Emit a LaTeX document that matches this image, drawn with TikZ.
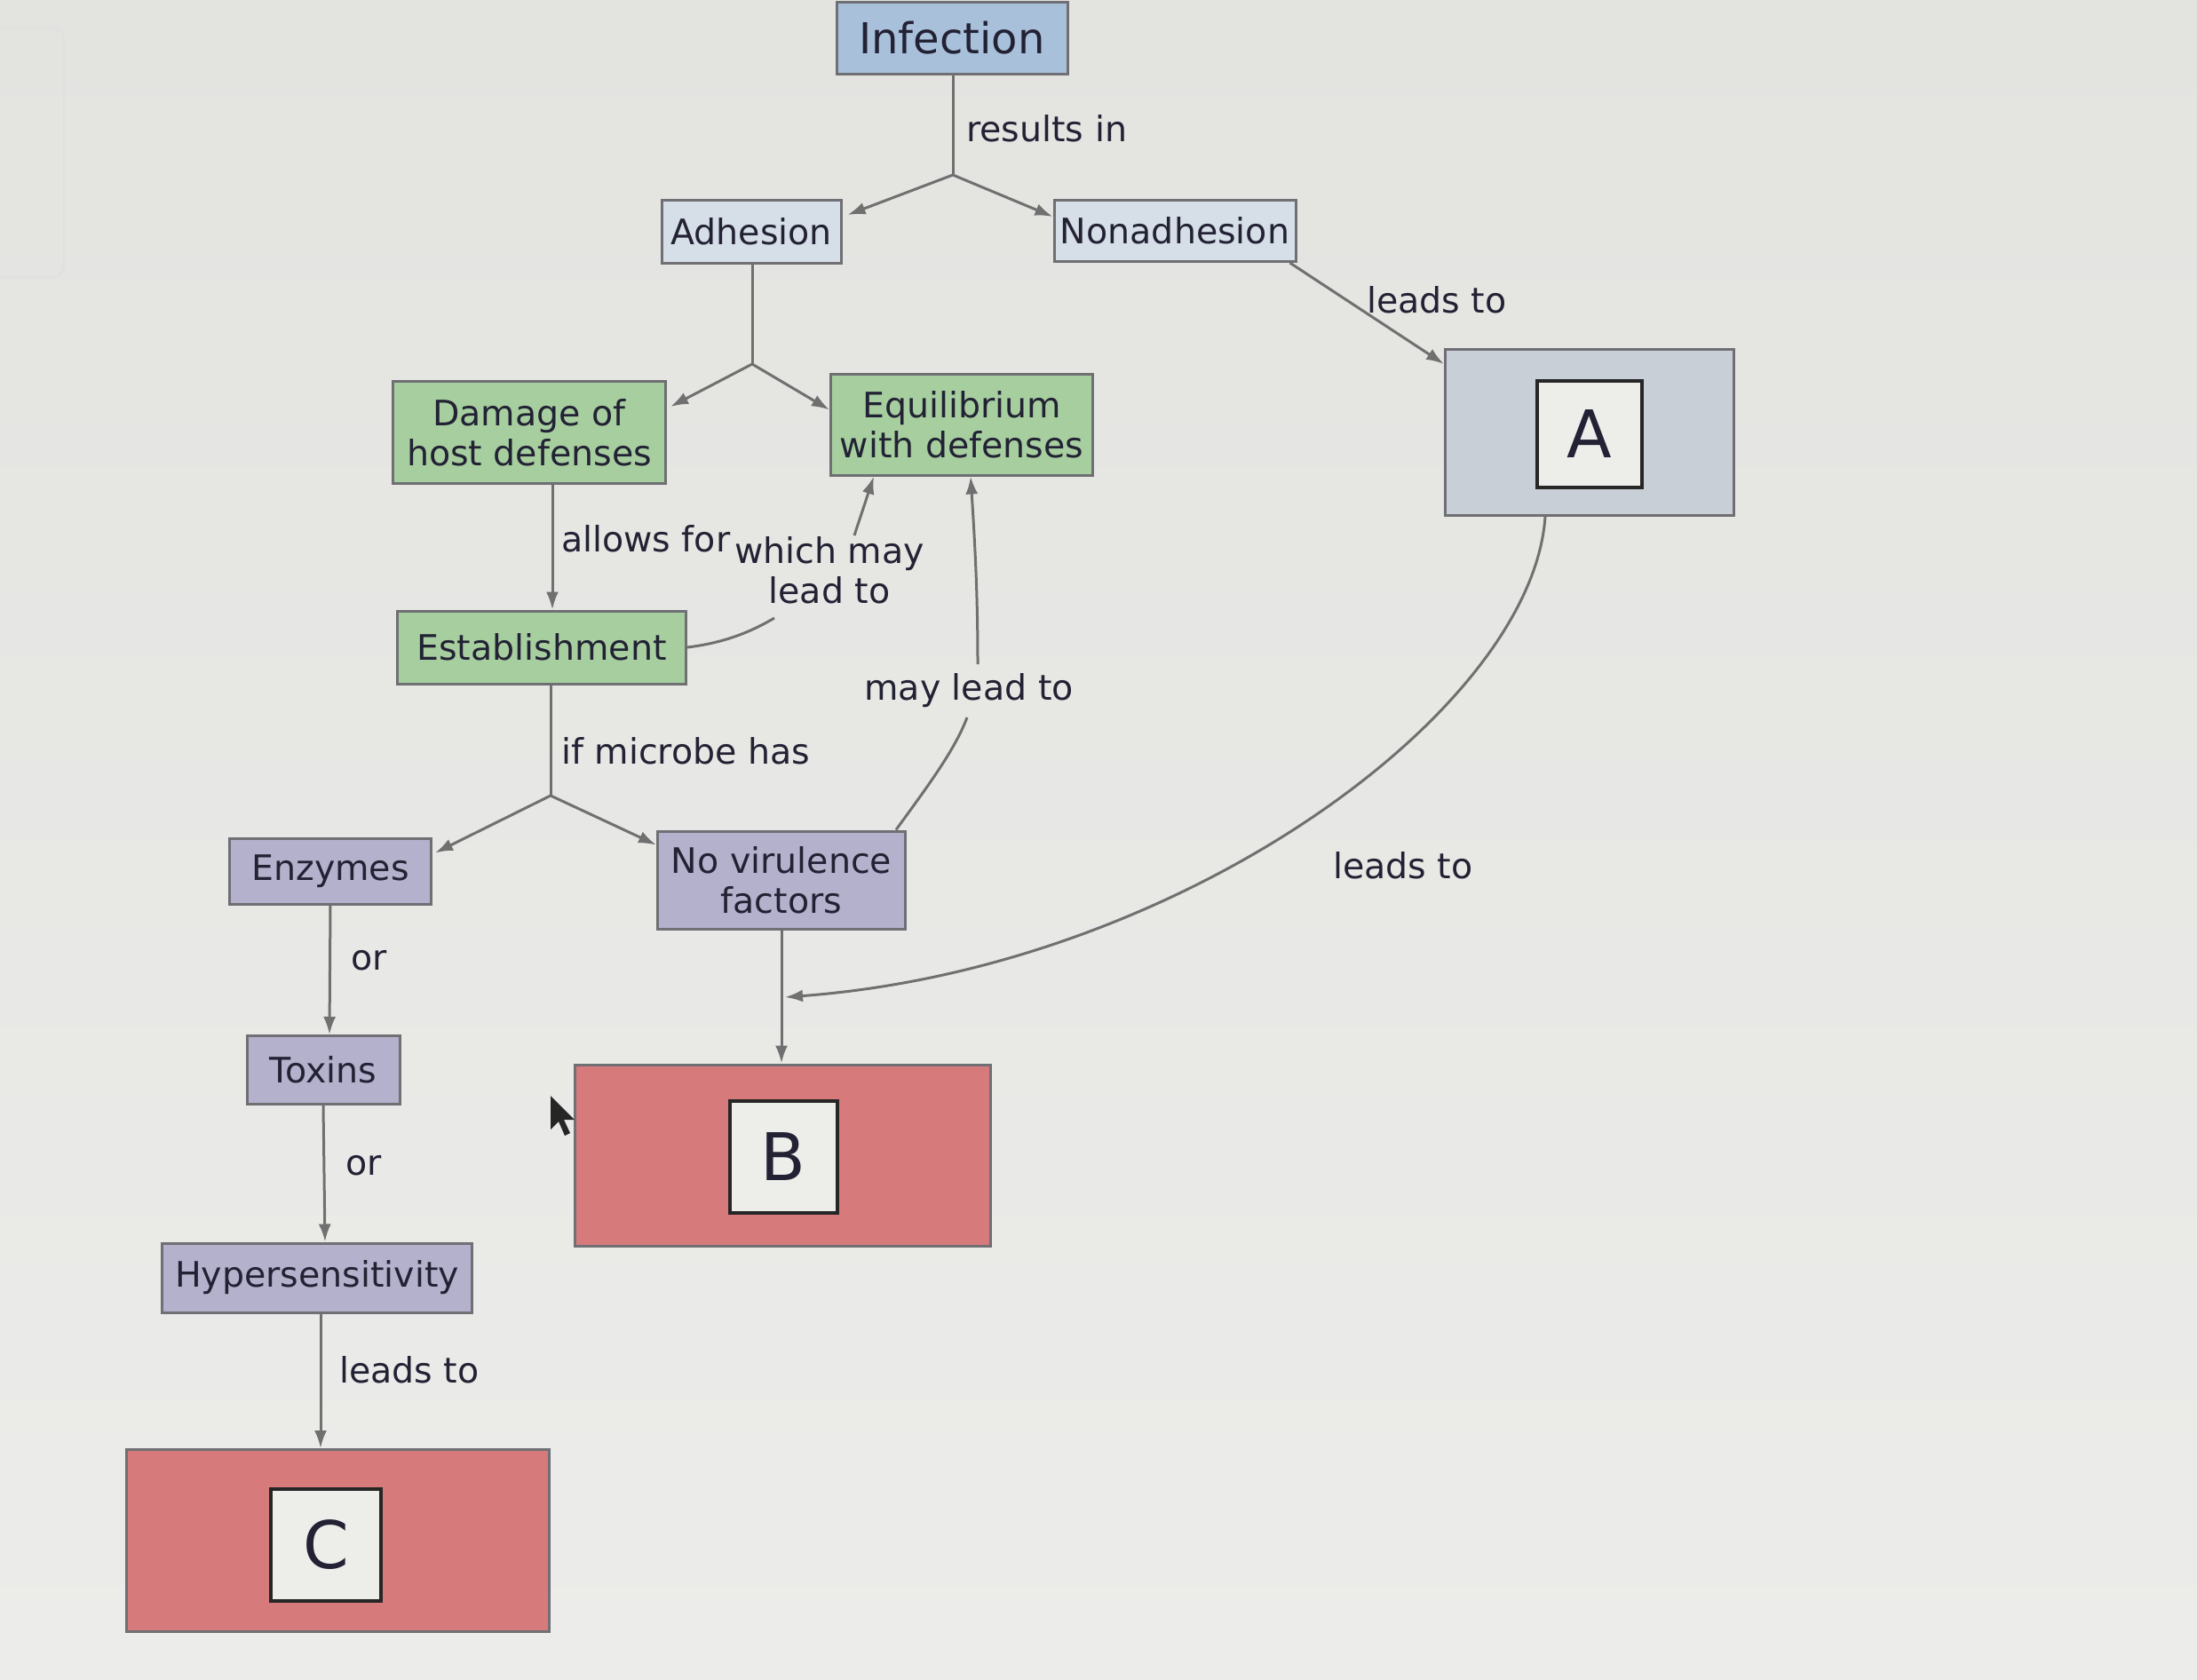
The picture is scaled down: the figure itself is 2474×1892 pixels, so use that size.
\documentclass[tikz,border=0pt]{standalone}
\usepackage{fontspec}
\setmainfont{DejaVu Sans}
\usetikzlibrary{arrows.meta,calc}
\definecolor{bgtop}{HTML}{E3E3E0}
\definecolor{bgbot}{HTML}{ECECEA}
\definecolor{boxline}{HTML}{6F6F74}
\definecolor{lnk}{HTML}{707070}
\definecolor{txt}{HTML}{222234}
\definecolor{infc}{HTML}{A9C0DB}
\definecolor{adhc}{HTML}{D6DEE7}
\definecolor{grnc}{HTML}{A7CE9F}
\definecolor{purc}{HTML}{B3B1CB}
\definecolor{redc}{HTML}{D77A7C}
\definecolor{agrey}{HTML}{C8CFD6}
\definecolor{inner}{HTML}{EDEDEA}
\newcommand\lblfont{\fontsize{39.5}{45}\selectfont}
\newcommand\bigfont{\fontsize{48}{56}\selectfont}
\newcommand\letfont{\fontsize{74}{80}\selectfont}
\tikzset{
  cbox/.style={draw=boxline, line width=3pt, inner sep=0pt, align=center, text=txt, font=\lblfont},
  innerbox/.style={draw=black!85, line width=4pt, fill=inner, inner sep=0pt, text=txt, font=\letfont},
  conn/.style={draw=lnk, line width=3pt},
  arr/.style={conn, -{Latex[length=20pt,width=14pt]}},
  lab/.style={text=txt, font=\lblfont, inner sep=2pt, align=center}
}
\begin{document}
\begin{tikzpicture}[x=1pt,y=-1pt]
\useasboundingbox (0,0) rectangle (2474,1892);
\shade[top color=bgtop, bottom color=bgbot] (0,0) rectangle (2474,1892);
% faint screen frame at left
\draw[draw=black!12, line width=2pt, rounded corners=12pt] (-20,32) rectangle (72,312);

% nodes
\node[cbox, fill=infc, minimum width=260pt, minimum height=81pt, font=\bigfont] (inf) at (1072,43) {Infection};
\node[cbox, fill=adhc, minimum width=202pt, minimum height=71pt] (adh) at (846,261) {Adhesion};
\node[cbox, fill=adhc, minimum width=272pt, minimum height=69pt] (nonadh) at (1323,260) {Nonadhesion};
\node[cbox, fill=agrey, minimum width=325pt, minimum height=187pt] (A) at (1790,487) {};
\node[innerbox, minimum width=118pt, minimum height=120pt] (Ai) at (1790,489) {A};
\node[cbox, fill=grnc, minimum width=307pt, minimum height=115pt] (dmg) at (596,487) {Damage of\\host defenses};
\node[cbox, fill=grnc, minimum width=295pt, minimum height=114pt] (eq) at (1083,478) {Equilibrium\\with defenses};
\node[cbox, fill=grnc, minimum width=325pt, minimum height=82pt] (est) at (610,729) {Establishment};
\node[cbox, fill=purc, minimum width=227pt, minimum height=74pt] (enz) at (372,981) {Enzymes};
\node[cbox, fill=purc, minimum width=279pt, minimum height=110pt] (nvf) at (880,991) {No virulence\\factors};
\node[cbox, fill=purc, minimum width=172pt, minimum height=77pt] (tox) at (364,1205) {Toxins};
\node[cbox, fill=purc, minimum width=349pt, minimum height=78pt] (hyp) at (357,1439) {Hypersensitivity};
\node[cbox, fill=redc, minimum width=468pt, minimum height=204pt] (B) at (881,1301) {};
\node[innerbox, minimum width=121pt, minimum height=126pt] (Bi) at (882,1303) {B};
\node[cbox, fill=redc, minimum width=476pt, minimum height=205pt] (C) at (380,1735) {};
\node[innerbox, minimum width=124pt, minimum height=126pt] (Ci) at (367,1740) {C};

% junctions and waypoints
\coordinate (j1) at (1073,197);
\coordinate (j2) at (847,410);
\coordinate (j3) at (620,896);
\coordinate (wmlin) at (872,696);
\coordinate (wmlout) at (962,603);
\coordinate (mltin) at (1089,808);
\coordinate (mltout) at (1101,748);
\coordinate (bin) at (884,1123);

% labels
\node[lab, anchor=west] (l1) at (1086,145) {results in};
\node[lab, anchor=west] (l2) at (1537,338) {leads to};
\node[lab, anchor=west] (l3) at (630,607) {allows for};
\node[lab] (wml) at (934,642) {which may\\lead to};
\node[lab] (mlt) at (1091,778) {may lead to};
\node[lab, anchor=west] (l4) at (630,846) {if microbe has};
\node[lab, anchor=west] (l5) at (393,1082) {or};
\node[lab, anchor=west] (l6) at (387,1313) {or};
\node[lab, anchor=west] (l7) at (380,1543) {leads to};
\node[lab, anchor=west] (l8) at (1499,975) {leads to};

% connectors
\draw[conn] ([xshift=1pt]inf.south) -- (j1);
\draw[arr] (j1) -- ([xshift=6pt,yshift=-18pt]adh.north east);
\draw[arr] (j1) -- ([yshift=-20pt]nonadh.north west);
\draw[arr] ([xshift=-8pt]nonadh.south east) -- ([yshift=-18pt]A.north west);

\draw[conn] ([xshift=1pt]adh.south) -- (j2);
\draw[arr] (j2) -- ([xshift=4pt,yshift=-30pt]dmg.north east);
\draw[arr] (j2) -- ([yshift=-42pt]eq.north west);

\draw[arr] ([xshift=26pt]dmg.south) -- ([xshift=12pt]est.north);
\draw[conn] (est.east) .. controls (815,724) and (845,712) .. (wmlin);
\draw[arr] (wmlout) -- ([xshift=50pt]eq.south west);
\draw[conn] ([xshift=-12pt]nvf.north east) .. controls (1045,885) and (1075,845) .. (mltin);
\draw[arr] (mltout) .. controls (1101,660) and (1097,600) .. ([xshift=10pt]eq.south);

\draw[conn] ([xshift=10pt]est.south) -- (j3);
\draw[arr] (j3) -- ([xshift=3pt,yshift=-18pt]enz.north east);
\draw[arr] (j3) -- ([yshift=-17pt]nvf.north west);

\draw[arr] (enz.south) -- ([xshift=7pt]tox.north);
\draw[arr] (tox.south) -- ([xshift=9pt]hyp.north);
\draw[arr] ([xshift=4pt]hyp.south) -- ([xshift=-19pt]C.north);
\draw[arr] (nvf.south) -- ([xshift=-1pt]B.north);
\draw[arr] ([xshift=-50pt]A.south) .. controls (1725,800) and (1330,1090) .. (bin);

% mouse cursor
\fill[black!85] (620,1234) -- (620,1272) -- (629,1263) -- (636,1279) -- (642,1276) -- (635,1261) -- (647,1261) -- cycle;
\end{tikzpicture}
\end{document}
